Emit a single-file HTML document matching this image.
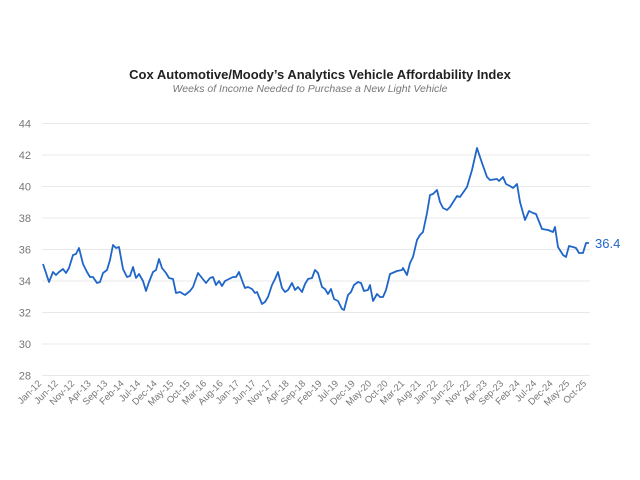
<!DOCTYPE html>
<html><head><meta charset="utf-8"><style>
html,body{margin:0;padding:0;background:#fff;}
svg{display:block;font-family:"Liberation Sans",Arial,sans-serif;}
</style></head><body>
<svg width="640" height="480" viewBox="0 0 640 480" xmlns="http://www.w3.org/2000/svg">
<text x="320" y="79" text-anchor="middle" font-size="13" font-weight="bold" fill="#222">Cox Automotive/Moody’s Analytics Vehicle Affordability Index</text>
<text x="310" y="92" text-anchor="middle" font-size="10.5" font-style="italic" fill="#777">Weeks of Income Needed to Purchase a New Light Vehicle</text>
<g stroke="#e8e8e8" stroke-width="1">
<line x1="42" x2="590" y1="123.5" y2="123.5"/>
<line x1="42" x2="590" y1="155" y2="155"/>
<line x1="42" x2="590" y1="186.5" y2="186.5"/>
<line x1="42" x2="590" y1="218" y2="218"/>
<line x1="42" x2="590" y1="249.5" y2="249.5"/>
<line x1="42" x2="590" y1="281" y2="281"/>
<line x1="42" x2="590" y1="312.5" y2="312.5"/>
<line x1="42" x2="590" y1="344" y2="344"/>
<line x1="42" x2="590" y1="375.5" y2="375.5"/>
</g>
<g font-size="11" fill="#777" text-anchor="end">
<text x="31" y="127.5">44</text>
<text x="31" y="159">42</text>
<text x="31" y="190.5">40</text>
<text x="31" y="222">38</text>
<text x="31" y="253.5">36</text>
<text x="31" y="285">34</text>
<text x="31" y="316.5">32</text>
<text x="31" y="348">30</text>
<text x="31" y="379.5">28</text>
</g>
<polyline fill="none" stroke="#1f66c8" stroke-width="1.8" stroke-linejoin="round" points="43,264 49,282 53,272 56,275 59,272 63,269 66,273 69,268 73,255 76,254 79,248 83,264 87,272 90,277 93,277 97,283 100,282 103,273 107,270 110,260 113,245 116,248 119,247 123,269 127,277 130,276 133,267 136,278 139,274 143,281 146,291 149,282 153,272 156,270 159,259 162,268 166,273 169,278 173,279 176,293 180,292 185,295 190,291 193,287 198,273 202,278 206,283 210,278 213,277 216,285 219,281 222,286 225,281 229,279 233,277 236,277 239,272 243,283 245,288 248,287 252,289 255,293 257,292 262,304 265,302 268,297 272,285 275,279 278,272 282,288 285,292 288,290 292,283 295,290 298,287 302,292 305,284 308,279 312,278 315,270 318,273 322,287 325,289 328,294 331,289 334,299 338,301 342,309 344,310 348,295 351,292 354,285 358,282 361,283 364,291 368,290 370,285 373,301 377,294 380,297 383,297 386,290 390,274 397,271 402,270 403,268 407,275 410,263 413,257 417,240 420,235 423,232 427,213 430,195 433,194 437,190 440,202 443,208 447,210 450,207 457,196 460,197 467,187 472,170 477,148 482,163 487,177 490,180 497,179 499,181 503,177 506,184 510,186 513,188 517,184 520,202 525,220 529,211 533,213 536,214 542,229 548,230 553,232 555,227 558,247 563,255 566,257 569,246 573,247 576,248 579,253 583,253 586,243 589,243"/>
<text x="595" y="248" font-size="13" fill="#1f66c8">36.4</text>
<g font-size="9.5" fill="#777" text-anchor="end">
<text transform="translate(42,384) rotate(-45)">Jan-12</text>
<text transform="translate(58.5,384) rotate(-45)">Jun-12</text>
<text transform="translate(75,384) rotate(-45)">Nov-12</text>
<text transform="translate(91.5,384) rotate(-45)">Apr-13</text>
<text transform="translate(108,384) rotate(-45)">Sep-13</text>
<text transform="translate(124.5,384) rotate(-45)">Feb-14</text>
<text transform="translate(141,384) rotate(-45)">Jul-14</text>
<text transform="translate(157.5,384) rotate(-45)">Dec-14</text>
<text transform="translate(174,384) rotate(-45)">May-15</text>
<text transform="translate(190.5,384) rotate(-45)">Oct-15</text>
<text transform="translate(207,384) rotate(-45)">Mar-16</text>
<text transform="translate(223.5,384) rotate(-45)">Aug-16</text>
<text transform="translate(240,384) rotate(-45)">Jan-17</text>
<text transform="translate(256.5,384) rotate(-45)">Jun-17</text>
<text transform="translate(273,384) rotate(-45)">Nov-17</text>
<text transform="translate(289.5,384) rotate(-45)">Apr-18</text>
<text transform="translate(306,384) rotate(-45)">Sep-18</text>
<text transform="translate(322.5,384) rotate(-45)">Feb-19</text>
<text transform="translate(339,384) rotate(-45)">Jul-19</text>
<text transform="translate(355.5,384) rotate(-45)">Dec-19</text>
<text transform="translate(372,384) rotate(-45)">May-20</text>
<text transform="translate(388.5,384) rotate(-45)">Oct-20</text>
<text transform="translate(405,384) rotate(-45)">Mar-21</text>
<text transform="translate(421.5,384) rotate(-45)">Aug-21</text>
<text transform="translate(438,384) rotate(-45)">Jan-22</text>
<text transform="translate(454.5,384) rotate(-45)">Jun-22</text>
<text transform="translate(471,384) rotate(-45)">Nov-22</text>
<text transform="translate(487.5,384) rotate(-45)">Apr-23</text>
<text transform="translate(504,384) rotate(-45)">Sep-23</text>
<text transform="translate(520.5,384) rotate(-45)">Feb-24</text>
<text transform="translate(537,384) rotate(-45)">Jul-24</text>
<text transform="translate(553.5,384) rotate(-45)">Dec-24</text>
<text transform="translate(570,384) rotate(-45)">May-25</text>
<text transform="translate(587,384) rotate(-45)">Oct-25</text>
</g>
</svg>
</body></html>
